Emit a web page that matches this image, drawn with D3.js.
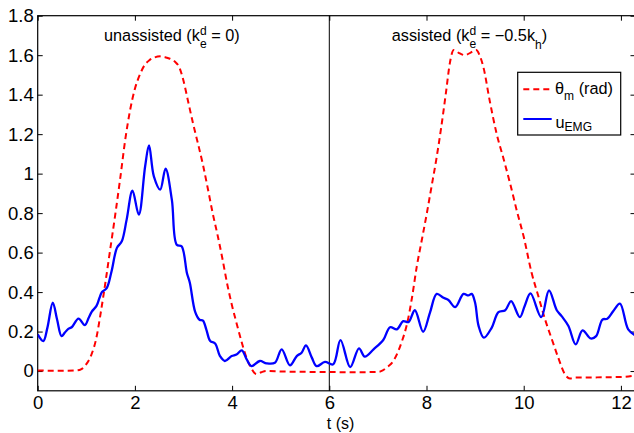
<!DOCTYPE html>
<html>
<head>
<meta charset="utf-8">
<script src="https://cdn.jsdelivr.net/npm/d3@7"></script>
<style>
  html, body { margin: 0; padding: 0; background: #fff; }
  svg { display: block; font-family: "Liberation Sans", Arial, Helvetica, sans-serif; }
</style>
</head>
<body>
<svg id="chart" width="634" height="433"></svg>
<script>
// Motor angle theta_m (rad) over time t (s)
const thetaT = [0, 0.5, 0.8, 0.9, 1.0, 1.1, 1.2, 1.3, 1.4, 1.5, 1.6, 1.7, 1.8, 1.9, 2.0, 2.1, 2.2, 2.3, 2.4, 2.52, 2.62, 2.72, 2.82, 2.92, 3.0, 3.1, 3.2, 3.3, 3.4, 3.5, 3.6, 3.7, 3.8, 3.9, 4.0, 4.1, 4.2, 4.3, 4.4, 4.5, 4.6, 4.7, 5.0, 5.5, 6.0,
  6.5, 7.0, 7.1, 7.2, 7.3, 7.4, 7.5, 7.6, 7.7, 7.8, 7.9, 8.0, 8.1, 8.2, 8.3, 8.4, 8.48, 8.56, 8.66, 8.79, 8.9, 9.02, 9.1, 9.17, 9.3, 9.44, 9.58, 9.72, 9.86, 10.0, 10.16, 10.3, 10.44, 10.58, 10.71, 10.85, 10.95, 11.05, 11.5, 12.0, 12.3];
const thetaV = [0.003, 0.001, 0.003, 0.01, 0.035, 0.08, 0.16, 0.3, 0.46, 0.63, 0.8, 0.98, 1.17, 1.32, 1.43, 1.5, 1.55, 1.575, 1.588, 1.594, 1.59, 1.582, 1.568, 1.535, 1.47, 1.36, 1.25, 1.15, 1.045, 0.925, 0.80, 0.69, 0.57, 0.44, 0.33, 0.235, 0.144, 0.065, 0.012, -0.015, -0.006, 0.0, -0.002, -0.004, -0.005,
  -0.006, -0.004, 0.003, 0.022, 0.045, 0.09, 0.155, 0.24, 0.37, 0.53, 0.66, 0.79, 0.93, 1.07, 1.23, 1.41, 1.56, 1.626, 1.612, 1.60, 1.612, 1.626, 1.595, 1.54, 1.37, 1.205, 1.08, 0.95, 0.81, 0.68, 0.50, 0.38, 0.261, 0.16, 0.068, -0.017, -0.038, -0.033, -0.032, -0.03, -0.022];

// EMG activation u_EMG over time t (s)
const emgT = [0.0, 0.115, 0.2, 0.31, 0.4, 0.49, 0.56, 0.63, 0.70, 0.84, 0.97, 1.05, 1.11, 1.21, 1.27, 1.32, 1.42, 1.52, 1.63, 1.73, 1.83, 1.95, 2.08, 2.21, 2.29, 2.39, 2.52, 2.63, 2.76, 2.86, 2.96, 3.07, 3.13, 3.24, 3.33, 3.40, 3.47, 3.55, 3.65, 3.75, 3.85, 3.99, 4.09, 4.20, 4.30, 4.40, 4.57, 4.71, 4.88, 5.02, 5.19, 5.33, 5.43, 5.52, 5.64, 5.74, 5.91, 6.08,
  6.23, 6.43, 6.61, 6.73, 6.91, 7.11, 7.25, 7.39, 7.52, 7.63, 7.76, 7.93, 8.07, 8.21, 8.35, 8.45, 8.59, 8.76, 8.86, 8.93, 9.0, 9.07, 9.18, 9.34, 9.48, 9.62, 9.74, 9.92, 10.02, 10.14, 10.36, 10.52, 10.68, 10.78, 10.92, 11.07, 11.21, 11.38, 11.49, 11.62, 11.72, 11.84, 11.98, 12.15, 12.3];
const emgV = [0.186, 0.152, 0.22, 0.346, 0.26, 0.177, 0.195, 0.214, 0.222, 0.266, 0.233, 0.27, 0.30, 0.33, 0.37, 0.40, 0.42, 0.506, 0.624, 0.657, 0.767, 0.914, 0.792, 1.036, 1.143, 0.986, 0.919, 1.025, 0.868, 0.64, 0.632, 0.497, 0.447, 0.30, 0.26, 0.255, 0.21, 0.152, 0.14, 0.076, 0.051, 0.076, 0.084, 0.105, 0.059, 0.025, 0.051, 0.039, 0.042, 0.11, 0.029, 0.076, 0.093, 0.13, 0.068, 0.025, 0.046, 0.034,
  0.157, 0.02, 0.115, 0.073, 0.11, 0.157, 0.222, 0.211, 0.253, 0.248, 0.308, 0.199, 0.295, 0.391, 0.371, 0.36, 0.324, 0.391, 0.383, 0.391, 0.346, 0.23, 0.169, 0.219, 0.298, 0.308, 0.354, 0.273, 0.33, 0.393, 0.273, 0.408, 0.308, 0.278, 0.228, 0.135, 0.206, 0.165, 0.177, 0.261, 0.265, 0.303, 0.342, 0.211, 0.18];

// Axis ticks and labels
const xTicks = [0, 2, 4, 6, 8, 10, 12];
const xTickLabels = ["0", "2", "4", "6", "8", "10", "12"];
const yTicks = [0, 0.2, 0.4, 0.6, 0.8, 1, 1.2, 1.4, 1.6, 1.8];
const yTickLabels = ["0", "0.2", "0.4", "0.6", "0.8", "1", "1.2", "1.4", "1.6", "1.8"];
const xDomain = [0, 12.3];
const yDomain = [-0.1, 1.8];
const phaseSplit = 6;   // boundary between the two trial phases

const svg = d3.select("#chart");
const plotLeft = 37.7, plotRight = 635.5, plotTop = 15.7, plotBottom = 390.8;

const x = d3.scaleLinear().domain(xDomain).range([plotLeft, plotRight]);
const y = d3.scaleLinear().domain(yDomain).range([plotBottom, plotTop]);

// clip lines to the plotting box
svg.append("defs").append("clipPath").attr("id", "plotClip")
  .append("rect").attr("x", plotLeft).attr("y", plotTop)
  .attr("width", plotRight - plotLeft).attr("height", plotBottom - plotTop);

const tickFont = 18.5;

// bottom axis (ticks pointing inward)
const gx = svg.append("g").attr("transform", `translate(0,${plotBottom})`)
  .call(d3.axisBottom(x).tickValues(xTicks)
    .tickFormat((d, i) => xTickLabels[i])
    .tickSizeInner(-5).tickSizeOuter(0).tickPadding(5));
// left axis
const gy = svg.append("g").attr("transform", `translate(${plotLeft},0)`)
  .call(d3.axisLeft(y).tickValues(yTicks)
    .tickFormat((d, i) => yTickLabels[i])
    .tickSizeInner(-5).tickSizeOuter(0).tickPadding(4));
// top and right mirror ticks
const gt = svg.append("g").attr("transform", `translate(0,${plotTop})`)
  .call(d3.axisTop(x).tickValues(xTicks).tickFormat("").tickSizeInner(-5).tickSizeOuter(0));
const gr = svg.append("g").attr("transform", `translate(${plotRight},0)`)
  .call(d3.axisRight(y).tickValues(yTicks).tickFormat("").tickSizeInner(-5).tickSizeOuter(0));

[gx, gy, gt, gr].forEach(g => {
  g.select(".domain").remove();
  g.selectAll(".tick line").attr("stroke", "#000").attr("stroke-width", 1);
  g.selectAll(".tick text").attr("fill", "#000")
    .attr("font-size", tickFont)
    .attr("font-family", '"Liberation Sans", Arial, Helvetica, sans-serif');
});

// plot frame
svg.append("rect")
  .attr("x", plotLeft).attr("y", plotTop)
  .attr("width", plotRight - plotLeft).attr("height", plotBottom - plotTop)
  .attr("fill", "none").attr("stroke", "#000").attr("stroke-width", 1.2);

// phase divider
svg.append("line")
  .attr("x1", x(phaseSplit)).attr("x2", x(phaseSplit))
  .attr("y1", y(yDomain[1])).attr("y2", y(yDomain[0]))
  .attr("stroke", "#000").attr("stroke-width", 1);

const plot = svg.append("g").attr("clip-path", "url(#plotClip)");

const thetaData = thetaT.map((t, i) => [t, thetaV[i]]);
const emgData = emgT.map((t, i) => [t, emgV[i]]);

const thetaLine = d3.line()
  .x(d => x(d[0])).y(d => y(d[1]))
  .curve(d3.curveMonotoneX);
const emgLine = d3.line()
  .x(d => x(d[0])).y(d => y(d[1]))
  .curve(d3.curveCatmullRom.alpha(0.5));

plot.append("path").datum(thetaData)
  .attr("d", thetaLine)
  .attr("fill", "none").attr("stroke", "#ff0000")
  .attr("stroke-width", 2).attr("stroke-dasharray", "6,4");

plot.append("path").datum(emgData)
  .attr("d", emgLine)
  .attr("fill", "none").attr("stroke", "#0000ff")
  .attr("stroke-width", 2.3).attr("stroke-linejoin", "round");

// text with super/subscripts; a part flagged "stack" sits under the previous one
function richText(px, py, parts, size) {
  const t = svg.append("text").attr("x", px).attr("y", py)
    .attr("font-size", size).attr("fill", "#000");
  let level = 0, prevWidth = 0;
  parts.forEach(p => {
    const small = p.sup || p.sub;
    const target = p.sup ? -p.shift : (p.sub ? p.shift : 0);
    const ts = t.append("tspan").text(p.t)
      .attr("font-size", small ? size * 0.74 : size)
      .attr("dy", target - level);
    if (p.stack) ts.attr("dx", -prevWidth);
    level = target;
    prevWidth = ts.node().getComputedTextLength();
  });
  return t;
}

richText(104, 40.7, [
  { t: "unassisted (k" },
  { t: "d", sup: true, shift: 6 },
  { t: "e", sub: true, shift: 7.5, stack: true },
  { t: " = 0)" }
], 16.3);

richText(391.7, 40.7, [
  { t: "assisted (k" },
  { t: "d", sup: true, shift: 6 },
  { t: "e", sub: true, shift: 7.5, stack: true },
  { t: " = \u22120.5k" },
  { t: "h", sub: true, shift: 8.5 },
  { t: ")" }
], 16.3);

// x axis title
svg.append("text")
  .attr("x", (x(xDomain[0]) + x(xDomain[1])) / 2 + 4)
  .attr("y", 428.5).attr("text-anchor", "middle")
  .attr("font-size", 16).attr("fill", "#000")
  .text("t (s)");

// legend
const lg = svg.append("g");
lg.append("rect")
  .attr("x", 517.7).attr("y", 72.3).attr("width", 103).attr("height", 62.7)
  .attr("fill", "#fff").attr("stroke", "#000").attr("stroke-width", 1.2);
lg.append("line")
  .attr("x1", 523.3).attr("x2", 551.7).attr("y1", 89.3).attr("y2", 89.3)
  .attr("stroke", "#ff0000").attr("stroke-width", 2).attr("stroke-dasharray", "6,4");
lg.append("line")
  .attr("x1", 523.3).attr("x2", 551.7).attr("y1", 119).attr("y2", 119)
  .attr("stroke", "#0000ff").attr("stroke-width", 2);

richText(555, 94, [
  { t: "\u03b8" },
  { t: "m", sub: true, shift: 6 },
  { t: " (rad)" }
], 16.3);
richText(555.5, 127.5, [
  { t: "u" },
  { t: "EMG", sub: true, shift: 3.5 }
], 16.3);
</script>
</body>
</html>
